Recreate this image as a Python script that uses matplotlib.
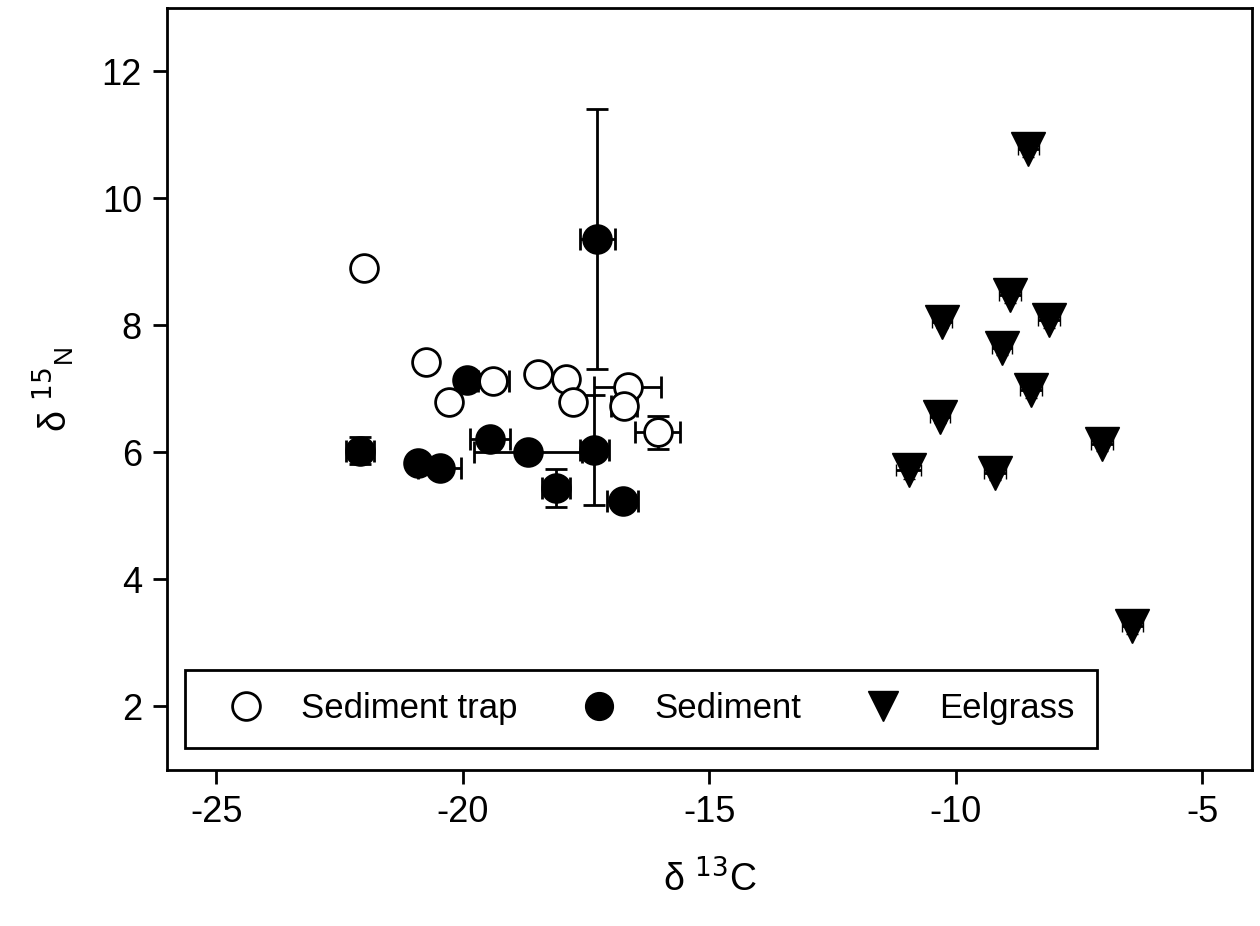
import matplotlib.pyplot as plt

plt.rcParams['font.family'] = ['Liberation Sans', 'DejaVu Sans']
plt.rcParams['axes.unicode_minus'] = False

# DATA
trap_x = [-22.0, -20.74, -19.38, -20.29, -18.47, -17.91, -17.76, -16.66, -16.73, -16.05]
trap_y = [8.91, 7.42, 7.12, 6.79, 7.23, 7.16, 6.79, 7.03, 6.73, 6.32]
trap_xerr = [0, 0, 0.32, 0, 0, 0, 0, 0.67, 0.27, 0.45]
trap_yerr = [0, 0, 0, 0, 0, 0, 0, 0, 0, 0.26]

sed_x = [-17.27, -19.91, -17.33, -18.68, -22.08, -20.91, -20.47, -19.45, -18.11, -16.76]
sed_y = [9.36, 7.14, 6.04, 6.01, 6.03, 5.84, 5.75, 6.21, 5.44, 5.23]
sed_xerr = [0.35, 0, 0.3, 1.1, 0.28, 0, 0.44, 0.4, 0.28, 0.31]
sed_yerr = [2.05, 0, 0.87, 0, 0.22, 0, 0, 0, 0.3, 0]

eel_x = [-8.53, -8.91, -10.28, -8.11, -9.07, -8.48, -10.32, -7.04, -10.96, -9.21, -6.42]
eel_y = [10.77, 8.48, 8.06, 8.08, 7.64, 6.98, 6.56, 6.13, 5.72, 5.68, 3.26]
eel_xerr = [0.22, 0.22, 0.2, 0.22, 0.2, 0.22, 0.2, 0.22, 0.25, 0.22, 0.22]
eel_yerr = [0.12, 0.12, 0.1, 0.12, 0.1, 0.12, 0.1, 0.1, 0.14, 0.12, 0.12]

labels = ['Sediment trap', 'Sediment', 'Eelgrass']

fig = plt.figure(figsize=(12.6, 9.26), dpi=100)
ax = fig.add_axes([0.1325, 0.1685, 0.861, 0.823])

ebkw = dict(ls='none', ecolor='black', elinewidth=2, capsize=8, capthick=2)

ax.errorbar(sed_x, sed_y, xerr=sed_xerr, yerr=sed_yerr, fmt='o', ms=20,
            mfc='black', mec='black', mew=2, **ebkw)
ax.errorbar(trap_x, trap_y, xerr=trap_xerr, yerr=trap_yerr, fmt='o', ms=20,
            mfc='white', mec='black', mew=2, **ebkw)
ax.errorbar(eel_x, eel_y, xerr=eel_xerr, yerr=eel_yerr, fmt='v', ms=24,
            mfc='black', mec='black', mew=1, ls='none', ecolor='black',
            elinewidth=2, capsize=4, capthick=2, zorder=1.5)

ax.set_xlim(-26, -4)
ax.set_ylim(1, 13)
ax.set_xticks([-25, -20, -15, -10, -5])
ax.set_yticks([2, 4, 6, 8, 10, 12])
ax.tick_params(direction='out', length=10, width=2, labelsize=26, pad=8)
for s in ax.spines.values():
    s.set_linewidth(2)

ax.set_xlabel(r'δ $^{13}$C', fontsize=27, labelpad=22)
ax.set_ylabel(r'δ $^{15}$$_{\mathregular{N}}$', fontsize=27, labelpad=18)

# legend markers without error bars
lh = [plt.Line2D([], [], ls='none', marker='o', ms=20, mfc='white', mec='black', mew=2),
      plt.Line2D([], [], ls='none', marker='o', ms=20, mfc='black', mec='black'),
      plt.Line2D([], [], ls='none', marker='v', ms=22, mfc='black', mec='black')]
leg = ax.legend(lh, labels, loc='lower left', bbox_to_anchor=(0.0166, 0.029, 0.8405, 0.1115),
                mode='expand', ncol=3, fontsize=25, frameon=True, fancybox=False,
                framealpha=1, edgecolor='black', borderaxespad=0,
                handletextpad=0.5, handlelength=2.2, columnspacing=1.5, borderpad=0.65)
leg.get_frame().set_linewidth(2)

fig.savefig('out.png', dpi=100)
